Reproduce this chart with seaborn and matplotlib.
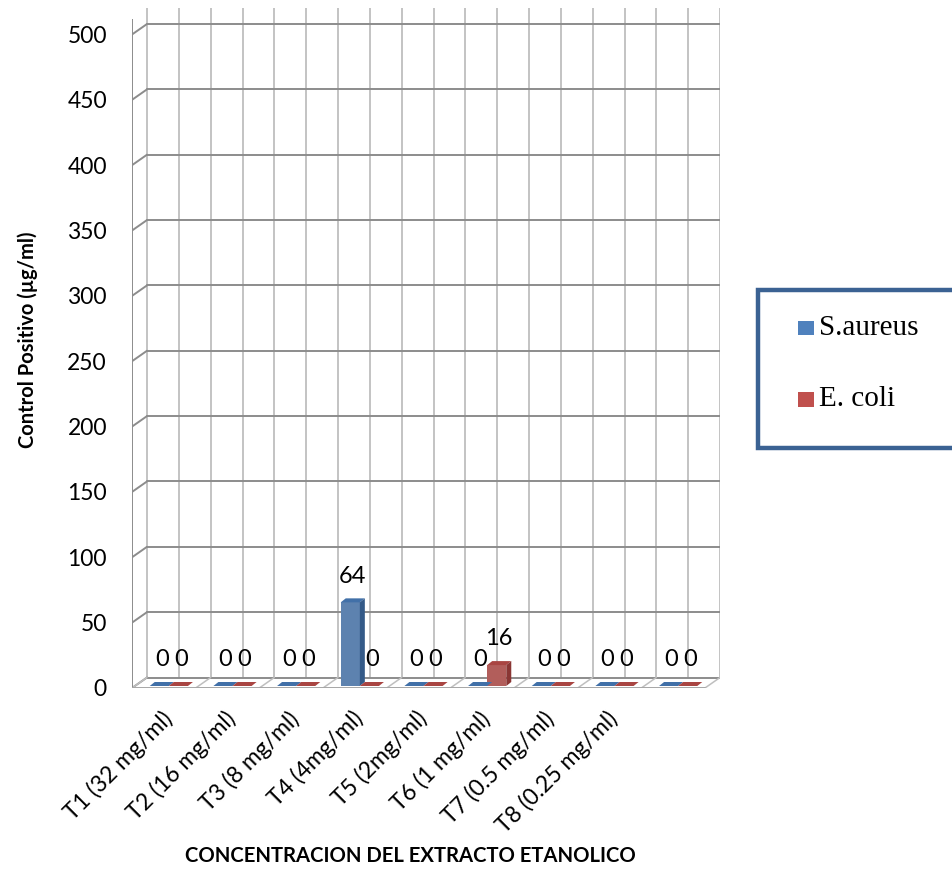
import numpy as np
import pandas as pd
import matplotlib
matplotlib.use("Agg")
import matplotlib.pyplot as plt
import matplotlib.transforms as mtransforms
from matplotlib.patches import Polygon, Rectangle
from matplotlib import font_manager as fm
import seaborn as sns

# ---- data ----
categorias = ["T1 (32 mg/ml)", "T2 (16 mg/ml)", "T3 (8 mg/ml)", "T4 (4mg/ml)",
              "T5 (2mg/ml)", "T6 (1 mg/ml)", "T7 (0.5 mg/ml)", "T8 (0.25 mg/ml)", ""]
s_aureus = [0, 0, 0, 64, 0, 0, 0, 0, 0]
e_coli = [0, 0, 0, 0, 0, 16, 0, 0, 0]
series = ["S.aureus", "E. coli"]
y_ticks = list(range(0, 501, 50))

colores = ["#4F81BD", "#C0504D"]
caras_sup = ["#4170A8", "#A94542"]
caras_lat = ["#345A88", "#8A3634"]

sns.set_theme(style="white")
disponibles = {f.name for f in fm.fontManager.ttflist}
SANS = "Lato" if "Lato" in disponibles else "DejaVu Sans"
SERIF = "Liberation Serif" if "Liberation Serif" in disponibles else "DejaVu Serif"
plt.rcParams["font.family"] = [SANS, "DejaVu Sans"]
plt.rcParams["text.color"] = "black"
plt.rcParams["xtick.color"] = "black"
plt.rcParams["ytick.color"] = "black"
plt.rcParams["axes.labelcolor"] = "black"

W, H = 952, 877
fig = plt.figure(figsize=(W / 100, H / 100), dpi=100)

# plot area in pixels
px_cat = 573 / 9.0          # pixels per category
px_val = (688 - 34.5) / 500  # pixels per unit
dx_px, dy_px = 15, 10.5      # depth offset of the back wall
ddx = dx_px / px_cat
ddy = dy_px / px_val
x0, x1 = -0.5, 8.5 + ddx
y_top = 525
left = 132
right = left + (x1 - x0) * px_cat
bottom = 688
top = bottom - y_top * px_val
ax = fig.add_axes([left / W, 1 - bottom / H, (right - left) / W, (bottom - top) / H])

df = pd.DataFrame({
    "categoria": categorias * 2,
    "valor": s_aureus + e_coli,
    "serie": [series[0]] * len(categorias) + [series[1]] * len(categorias),
})
sns.barplot(data=df, x="categoria", y="valor", hue="serie", order=categorias,
            hue_order=series, palette=colores, width=0.6, edgecolor="none",
            linewidth=0, legend=False, ax=ax, zorder=4)

ax.set_xlim(x0, x1)
ax.set_ylim(0, y_top)
for s in ax.spines.values():
    s.set_visible(False)
ax.grid(False)

grid_h = "#8C8C8C"
grid_v = "#C3C3C3"
lw = 1.4

# back wall: vertical lines every half category
for k in range(19):
    xv = x0 + ddx + k * 0.5
    ax.plot([xv, xv], [ddy, 520.5], color=grid_v, lw=lw, zorder=1, solid_capstyle="butt")
# back wall horizontal lines + side wall connectors
for v in y_ticks:
    ax.plot([x0 + ddx, 8.5 + ddx], [v + ddy, v + ddy], color=grid_h, lw=lw, zorder=1.5)
    ax.plot([x0, x0 + ddx], [v, v + ddy], color=grid_h, lw=lw, zorder=1.5)
# front vertical axis line
ax.plot([x0, x0], [0, 511.5], color=grid_h, lw=lw, zorder=2, solid_capstyle="butt")
# floor
ax.plot([x0, 8.5], [0, 0], color="#A6A6A6", lw=lw, zorder=2)
for k in range(10):
    xb = x0 + k
    ax.plot([xb, xb + ddx], [0, ddy], color="#BFBFBF", lw=1.1, zorder=1.6)

# 3D bars built from the seaborn rectangles
fx = 5 / px_cat
fy = 2 / px_val
bx = 5 / px_cat
by = 4 / px_val
for i, cont in enumerate(ax.containers):
    for rect in cont:
        x = rect.get_x() + fx
        w = rect.get_width()
        h = rect.get_height()
        rect.set_x(x)
        rect.set_y(fy)
        yb = fy
        yt = fy + h
        top_face = Polygon([(x, yt), (x + w, yt), (x + w + bx, yt + by), (x + bx, yt + by)],
                           closed=True, facecolor=caras_sup[i], edgecolor="none", zorder=5)
        ax.add_patch(top_face)
        if h > 0:
            side = Polygon([(x + w, yb), (x + w, yt), (x + w + bx, yt + by), (x + w + bx, yb + by)],
                           closed=True, facecolor=caras_lat[i], edgecolor="none", zorder=5)
            ax.add_patch(side)
        ax.annotate(f"{h:g}", xy=(x + w / 2 + bx / 2, yt + by), xytext=(0, 16),
                    textcoords="offset points", ha="center", va="center",
                    fontsize=17, color="black", zorder=6)

# ticks
ax.set_yticks(y_ticks)
ax.set_yticklabels([str(v) for v in y_ticks], fontsize=16.5)
ax.tick_params(axis="y", length=0, pad=18)
ax.set_xticks(range(8))
ax.set_xticklabels(categorias[:8], fontsize=16.5, rotation=45, ha="right",
                   rotation_mode="anchor")
ax.tick_params(axis="x", length=0, pad=14)
shift = mtransforms.ScaledTranslation(-3 / 100, 0, fig.dpi_scale_trans)
for lab in ax.get_xticklabels():
    lab.set_transform(lab.get_transform() + shift)

ax.set_xlabel("")
ax.set_ylabel("")
fig.text(28 / W, 1 - 340 / H, "Control Positivo (µg/ml)", rotation=90, ha="center",
         va="center", fontsize=14.5, fontweight="bold")
fig.text(410 / W, 1 - 856 / H, "CONCENTRACION DEL EXTRACTO ETANOLICO", ha="center",
         va="center", fontsize=14.6, fontweight="bold")

# legend box
fig.patches.append(Rectangle((758 / W, 1 - 448 / H), 210 / W, 158 / H,
                             transform=fig.transFigure, facecolor="white",
                             edgecolor="#3B6293", lw=3.2, zorder=10))
for j, (nombre, yc) in enumerate(zip(series, [328, 399.5])):
    fig.patches.append(Rectangle((798 / W, 1 - (yc + 7) / H), 16 / W, 14 / H,
                                 transform=fig.transFigure, facecolor=colores[j],
                                 edgecolor="none", zorder=11))
    fig.text(819 / W, 1 - yc / H, nombre, ha="left", va="center", fontsize=21,
             family=SERIF, zorder=12)

fig.savefig("out.png", dpi=100)
